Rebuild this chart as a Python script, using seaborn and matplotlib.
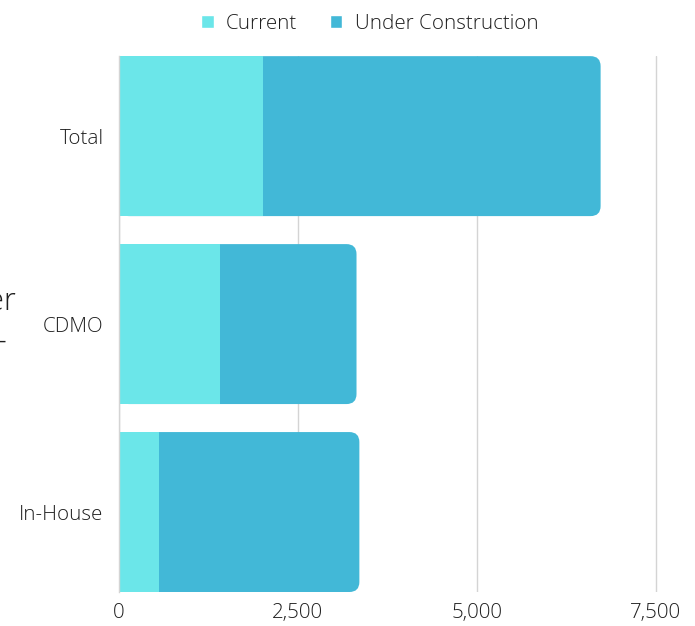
import matplotlib
matplotlib.use("Agg")
import matplotlib.pyplot as plt
import seaborn as sns
import pandas as pd
from matplotlib.patches import FancyBboxPatch, Patch

# data
categories = ["Total", "CDMO", "In-House"]
current = [2010, 1410, 560]
under_construction = [4720, 1910, 2800]

c_current = "#6be6e9"
c_uc = "#42b8d7"
text_col = "#1f1f1f"

sns.set_theme(style="white")
plt.rcParams["font.family"] = ["Open Sans", "DejaVu Sans"]
plt.rcParams["font.weight"] = "light"

df = pd.DataFrame({"category": categories, "current": current,
                   "uc": under_construction})
df["total"] = df["current"] + df["uc"]

fig = plt.figure(figsize=(6.95, 6.26), dpi=100)
ax = fig.add_axes([0.171, 0.0543, 0.824, 0.856])

bw = 0.851
# full bar (under construction on top of current) then current over it
sns.barplot(data=df, y="category", x="total", color=c_uc, width=bw,
            saturation=1, ax=ax, orient="h")
sns.barplot(data=df, y="category", x="current", color=c_current, width=bw,
            saturation=1, ax=ax, orient="h")

xmax = 8000
ax.set_xlim(0, xmax)
ax.set_ylim(2 + bw / 2, -bw / 2)

# round the right end of the total bars
fig.canvas.draw()
ax_w = ax.get_window_extent().width
ax_h = ax.get_window_extent().height
x_per_px = xmax / ax_w
y_per_px = (2 + bw) / ax_h
r_px = 10
n = len(categories)
for p in list(ax.patches[:n]):
    x0, y0 = p.get_x(), p.get_y()
    w, h = p.get_width(), p.get_height()
    p.remove()
    fb = FancyBboxPatch((x0, y0), w, h,
                        boxstyle=f"round,pad=0,rounding_size={r_px * x_per_px}",
                        mutation_aspect=y_per_px / x_per_px,
                        facecolor=c_uc, edgecolor="none", zorder=1)
    ax.add_patch(fb)
for p in ax.patches:
    if isinstance(p, FancyBboxPatch):
        continue
    p.set_zorder(2)
    p.set_edgecolor("none")

ax.set_xticks([0, 2500, 5000, 7500])
ax.set_xticklabels(["0", "2,500", "5,000", "7,500"])
ax.xaxis.grid(True, color="#d4d4d4", linewidth=1)
ax.set_axisbelow(True)
for s in ["top", "right", "bottom"]:
    ax.spines[s].set_visible(False)
ax.spines["left"].set_color("#d4d4d4")
ax.spines["left"].set_linewidth(1)
ax.tick_params(axis="both", length=0, labelsize=14.8, colors=text_col)
ax.tick_params(axis="x", pad=8)
ax.tick_params(axis="y", pad=11)
ax.set_xlabel("")
ax.set_ylabel("")

handles = [Patch(facecolor=c_current, label="Current"),
           Patch(facecolor=c_uc, label="Under Construction")]
fig.legend(handles=handles, loc="center", bbox_to_anchor=(0.532, 0.962),
           ncol=2, frameon=False, fontsize=14.8, handlelength=0.6,
           handleheight=0.6, handletextpad=0.6, columnspacing=1.6,
           labelcolor=text_col)

# clipped axis title at the left edge
fig.text(0.024, 1 - 302 / 626, "Number", ha="right", va="center",
         fontsize=22, color=text_col)
fig.text(0.010, 1 - 342 / 626, "-", ha="right", va="center",
         fontsize=22, color=text_col)

fig.savefig("out.png", dpi=100)
